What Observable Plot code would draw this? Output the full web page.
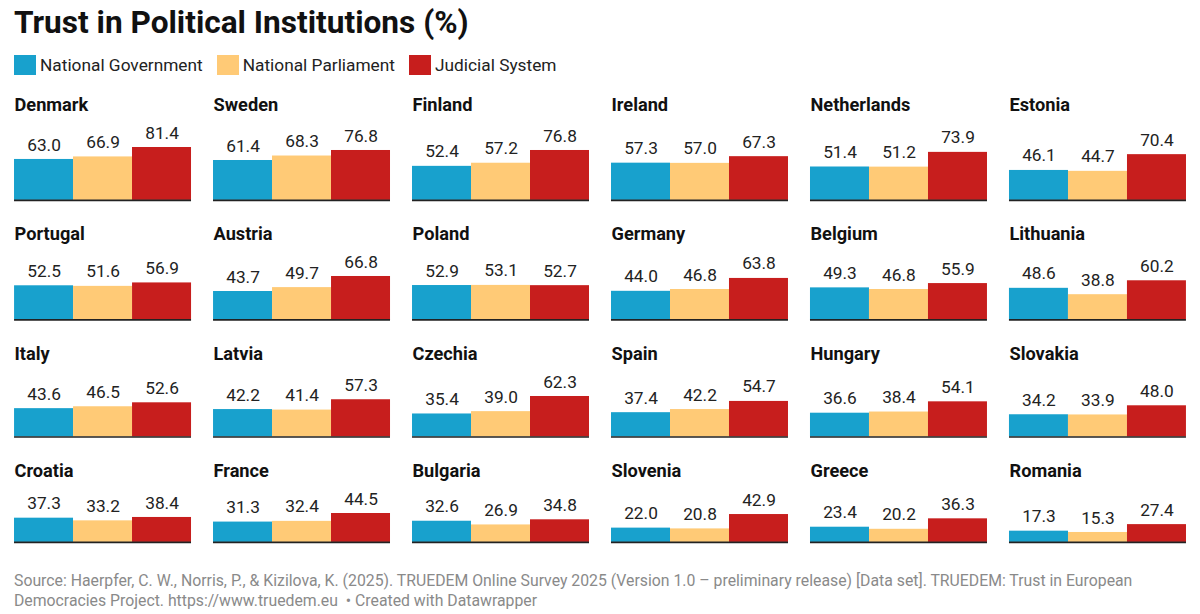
<!DOCTYPE html>
<html>
<head>
<meta charset="utf-8">
<script src="https://cdn.jsdelivr.net/npm/d3@7"></script>
<script src="https://cdn.jsdelivr.net/npm/@observablehq/plot@0.6"></script>
<style>
  html, body { margin: 0; padding: 0; background: #fff; }
  body { width: 1200px; height: 614px; position: relative; overflow: hidden; font-family: Roboto, "Noto Sans", sans-serif; }
  #title { position: absolute; left: 14px; top: 3px; font-size: 31.6px; line-height: 40px; font-weight: 700; color: #111; white-space: nowrap; }
  #legend { position: absolute; left: 14px; top: 55px; display: flex; align-items: center; font-size: 17.3px; color: #222; }
  .item { display: flex; align-items: center; margin-right: 14px; }
  .sw { width: 22px; height: 20px; margin-right: 4px; }
  #rows { position: absolute; left: 0; top: 85.5px; }
  #rows svg { display: block; }
  #source { position: absolute; left: 14px; top: 571px; font-size: 15.8px; line-height: 20px; color: #8a8a8a; white-space: nowrap; }
</style>
</head>
<body>
<div id="title">Trust in Political Institutions (%)</div>
<div id="legend"></div>
<div id="rows"></div>
<div id="source">Source: Haerpfer, C. W., Norris, P., &amp; Kizilova, K. (2025). TRUEDEM Online Survey 2025 (Version 1.0 – preliminary release) [Data set]. TRUEDEM: Trust in European<br>Democracies Project. https://www.truedem.eu&nbsp; • Created with Datawrapper</div>
<script>
// ---- Data ----
const institutions = ["National Government", "National Parliament", "Judicial System"];
const colors = ["#18a1cd", "#ffca76", "#c71e1d"];

const countries = [
  "Denmark", "Sweden", "Finland", "Ireland", "Netherlands", "Estonia",
  "Portugal", "Austria", "Poland", "Germany", "Belgium", "Lithuania",
  "Italy", "Latvia", "Czechia", "Spain", "Hungary", "Slovakia",
  "Croatia", "France", "Bulgaria", "Slovenia", "Greece", "Romania"
];
const government = [
  63.0, 61.4, 52.4, 57.3, 51.4, 46.1,
  52.5, 43.7, 52.9, 44.0, 49.3, 48.6,
  43.6, 42.2, 35.4, 37.4, 36.6, 34.2,
  37.3, 31.3, 32.6, 22.0, 23.4, 17.3
];
const parliament = [
  66.9, 68.3, 57.2, 57.0, 51.2, 44.7,
  51.6, 49.7, 53.1, 46.8, 46.8, 38.8,
  46.5, 41.4, 39.0, 42.2, 38.4, 33.9,
  33.2, 32.4, 26.9, 20.8, 20.2, 15.3
];
const judicial = [
  81.4, 76.8, 76.8, 67.3, 73.9, 70.4,
  56.9, 66.8, 52.7, 63.8, 55.9, 60.2,
  52.6, 57.3, 62.3, 54.7, 54.1, 48.0,
  38.4, 44.5, 34.8, 42.9, 36.3, 27.4
];
const perRow = 6;

// ---- Legend ----
const legend = document.getElementById("legend");
institutions.forEach((name, i) => {
  const item = document.createElement("div");
  item.className = "item";
  item.innerHTML = `<span class="sw" style="background:${colors[i]}"></span><span>${name}</span>`;
  legend.appendChild(item);
});

// ---- Tidy table ----
const series = [government, parliament, judicial];
const table = [];
countries.forEach((c, i) => {
  institutions.forEach((inst, j) => {
    table.push({country: c, inst, value: series[j][i], row: Math.floor(i / perRow)});
  });
});

// ---- Layout constants ----
const pxPerUnit = 0.65;
const mTop = 61, mBottom = 15.5;

const rowsDiv = document.getElementById("rows");
const nRows = Math.ceil(countries.length / perRow);
for (let r = 0; r < nRows; r++) {
  const rowCountries = countries.slice(r * perRow, (r + 1) * perRow);
  const rowData = table.filter(d => d.row === r);
  const rowMax = d3.max(rowData, d => d.value);
  const height = mTop + mBottom + rowMax * pxPerUnit;
  const chart = Plot.plot({
    width: 1200,
    height,
    marginLeft: 14,
    marginRight: 14,
    marginTop: mTop,
    marginBottom: mBottom,
    style: {fontFamily: "Roboto, 'Noto Sans', sans-serif", overflow: "visible", background: "transparent"},
    x: {domain: institutions, padding: 0, axis: null},
    y: {domain: [0, rowMax], axis: null},
    fx: {domain: rowCountries, paddingInner: 22 / 199, paddingOuter: 0, axis: null},
    color: {domain: institutions, range: colors},
    marks: [
      Plot.barY(rowData, {fx: "country", x: "inst", y: "value", fill: "inst"}),
      Plot.ruleY([0], {stroke: "#222", strokeWidth: 1.6}),
      Plot.text(rowData, {
        fx: "country", x: "inst", y: "value",
        text: d => d.value.toFixed(1),
        dy: -14.5, lineAnchor: "middle", fontSize: 17.3, fill: "#222"
      }),
      Plot.text(rowCountries, {
        fx: d => d, text: d => d,
        frameAnchor: "top-left", textAnchor: "start", lineAnchor: "middle",
        dy: -42.5, fontSize: 18.2, fontWeight: "bold", fill: "#111"
      })
    ]
  });
  rowsDiv.appendChild(chart);
}
</script>
</body>
</html>
